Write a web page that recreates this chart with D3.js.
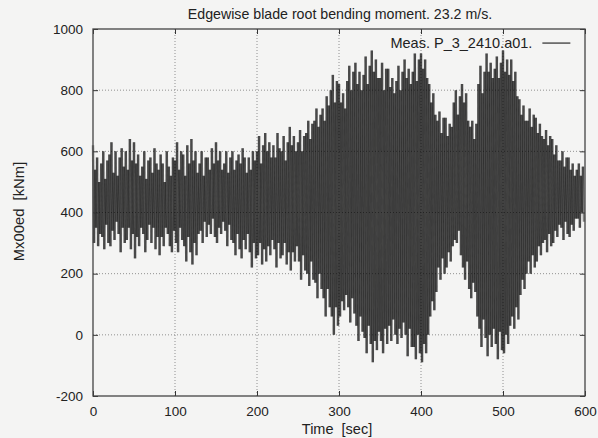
<!DOCTYPE html>
<html>
<head>
<meta charset="utf-8">
<script src="https://cdn.jsdelivr.net/npm/d3@7"></script>
<style>
  body { margin: 0; background: #f4f4f3; }
  svg { display: block; font-family: "Liberation Sans", Arial, sans-serif; }
  .pre { white-space: pre; }
</style>
</head>
<body>
<div id="chart"></div>
<script>
const title = "Edgewise blade root bending moment. 23.2 m/s.";
const seriesName = "Meas. P_3_2410.a01.";
const xTicks = [0, 100, 200, 300, 400, 500, 600];
const yTicks = [-200, 0, 200, 400, 600, 800, 1000];
const step = 2.5; // seconds between successive peaks

// local maxima, one every 2.5 s
const peaks = [
  620, 540, 580, 500,  560, 600, 510, 570,  590, 630, 530, 600,  520, 580, 610, 550,
  600, 540, 640, 570,  630, 560, 590, 520,  550, 600, 510, 570,  580, 530, 610, 560,
  540, 590, 560, 500,  600, 550, 520, 580,  570, 630, 540, 600,  590, 520, 620, 560,
  640, 570, 600, 530,  560, 600, 520, 580,  580, 540, 610, 560,  630, 570, 600, 540,
  560, 600, 530, 580,  600, 540, 570, 590,  560, 610, 580, 530,  580, 540, 600, 570,
  600, 650, 560, 620,  660, 600, 630, 580,  620, 580, 660, 610,  600, 650, 570, 630,
  680, 620, 650, 600,  630, 670, 600, 650,  660, 700, 640, 690,  700, 740, 680, 720,
  740, 700, 780, 750,  800, 850, 760, 830,  820, 760, 790, 740,  830, 880, 800, 860,
  890, 820, 860, 800,  850, 910, 820, 880,  930, 860, 900, 840,  840, 890, 800, 870,
  870, 810, 840, 790,  830, 880, 800, 860,  900, 840, 870, 820,  860, 920, 830, 900,
  920, 870, 900, 840,  820, 760, 790, 720,  700, 730, 660, 710,  710, 650, 690, 680,
  760, 800, 720, 780,  820, 760, 790, 700,  680, 700, 640, 690,  820, 880, 790, 860,
  920, 860, 890, 840,  870, 910, 840, 890,  930, 860, 900, 850,  900, 830, 860, 780,
  770, 720, 750, 700,  700, 740, 680, 720,  710, 660, 690, 650,  640, 670, 620, 650,
  640, 590, 620, 570,  570, 600, 550, 580,  580, 540, 560, 520,  540, 560, 520, 550
];

// local minima, each 1.25 s after the matching peak
const troughs = [
  300, 350, 290, 330,  320, 280, 360, 300,  290, 340, 310, 370,  330, 270, 350, 300,
  310, 350, 280, 330,  250, 320, 290, 350,  330, 270, 310, 360,  300, 350, 280, 320,
  260, 320, 290, 350,  330, 290, 270, 340,  300, 270, 350, 310,  290, 240, 320, 270,
  230, 300, 260, 330,  340, 300, 370, 320,  360, 330, 380, 320,  300, 350, 330, 370,
  340, 290, 360, 310,  300, 260, 330, 280,  250, 310, 280, 330,  270, 220, 300, 250,
  260, 300, 230, 280,  240, 290, 260, 310,  280, 220, 300, 250,  260, 300, 230, 270,
  210, 270, 240, 290,  240, 180, 260, 210,  200, 160, 240, 180,  170, 120, 200, 150,
  120, 60, 150, 90,    60, 0, 90, 30,      60, 110, 80, 130,    90, 40, 120, 70,
  30, -20, 60, 10,     -10, -60, 30, -30,  -90, -20, -50, 10,   -20, -60, 20, -30,
  30, -20, 50, 0,      -30, 20, -10, 40,   0, -70, 20, -40,     -40, -80, 0, -60,
  -90, -30, -60, 0,    60, 110, 80, 140,   220, 180, 250, 200,  220, 270, 240, 290,
  310, 300, 340, 260,  220, 180, 240, 150,  120, 170, 140, 60,   20, -40, 50, -10,
  -70, 0, -40, 20,     -30, -80, 10, -50,  -60, 0, -30, 30,     60, 20, 90, 50,
  130, 180, 150, 200,  240, 200, 260, 220,  240, 290, 260, 300,  310, 270, 330, 290,
  300, 340, 320, 360,  350, 310, 370, 330,  320, 360, 340, 380,  380, 350, 400, 370
];

const series = [];
peaks.forEach((p, i) => {
  series.push({ t: i * step, v: p });
  series.push({ t: i * step + step / 2, v: troughs[i] });
});

const W = 598, H = 438;
const margin = { top: 29, right: 13, bottom: 42, left: 93 };
const width = W - margin.left - margin.right;
const height = H - margin.top - margin.bottom;

const svg = d3.select("#chart").append("svg")
  .attr("width", W).attr("height", H);

const g = svg.append("g")
  .attr("transform", `translate(${margin.left},${margin.top})`);

const x = d3.scaleLinear().domain([0, 600]).range([0, width]);
const y = d3.scaleLinear().domain([-200, 1000]).range([height, 0]);

// grid
g.append("g").selectAll("line").data(xTicks.slice(1, -1)).enter().append("line")
  .attr("x1", d => x(d)).attr("x2", d => x(d))
  .attr("y1", 0).attr("y2", height)
  .attr("stroke", "#777").attr("stroke-width", 0.8).attr("stroke-dasharray", "1,2");
g.append("g").selectAll("line").data(yTicks.slice(1, -1)).enter().append("line")
  .attr("x1", 0).attr("x2", width)
  .attr("y1", d => y(d)).attr("y2", d => y(d))
  .attr("stroke", "#777").attr("stroke-width", 0.8).attr("stroke-dasharray", "1,2");

// data: one segment per line so that overlapping strokes build up a dark core
g.append("g").selectAll("line")
  .data(d3.pairs(series))
  .enter().append("line")
  .attr("x1", d => x(d[0].t)).attr("y1", d => y(d[0].v))
  .attr("x2", d => x(d[1].t)).attr("y2", d => y(d[1].v))
  .attr("stroke", "#000")
  .attr("stroke-opacity", 0.45)
  .attr("stroke-width", 2.4);

// axes (ticks inside, mirrored like gnuplot)
const fmt = d => String(d);
const axisStyle = sel => {
  sel.select(".domain").remove();
  sel.selectAll("line").attr("stroke", "#333");
  sel.selectAll("text").attr("font-size", 13.5).attr("fill", "#222")
    .attr("font-family", "'Liberation Sans', Arial, sans-serif");
};
g.append("g").attr("transform", `translate(0,${height})`)
  .call(d3.axisBottom(x).tickValues(xTicks).tickSize(-5).tickPadding(10).tickFormat(fmt))
  .call(axisStyle);
g.append("g")
  .call(d3.axisTop(x).tickValues(xTicks).tickSize(-5).tickFormat(""))
  .call(axisStyle);
g.append("g")
  .call(d3.axisLeft(y).tickValues(yTicks).tickSize(-5).tickPadding(10).tickFormat(fmt))
  .call(axisStyle);
g.append("g").attr("transform", `translate(${width},0)`)
  .call(d3.axisRight(y).tickValues(yTicks).tickSize(-5).tickFormat(""))
  .call(axisStyle);

g.append("rect")
  .attr("width", width).attr("height", height)
  .attr("fill", "none").attr("stroke", "#444").attr("stroke-width", 1.3);

// legend
const legend = g.append("g").attr("transform", `translate(${x(548)},${y(954)})`);
legend.append("text")
  .attr("x", -10).attr("y", 5)
  .attr("text-anchor", "end")
  .attr("font-size", 14.5).attr("fill", "#222")
  .text(seriesName);
legend.append("line")
  .attr("x1", 0).attr("x2", 28).attr("y1", 0).attr("y2", 0)
  .attr("stroke", "#2b2b2b").attr("stroke-width", 1.2);

// title and labels
svg.append("text")
  .attr("x", 340).attr("y", 19)
  .attr("text-anchor", "middle").attr("font-size", 14.2).attr("fill", "#222")
  .text(title);
svg.append("text")
  .attr("class", "pre")
  .attr("x", 337).attr("y", 434)
  .attr("text-anchor", "middle").attr("font-size", 14.5).attr("fill", "#222")
  .text("Time  [sec]");
svg.append("text")
  .attr("class", "pre")
  .attr("transform", `translate(24,${margin.top + y(400) - 1}) rotate(-90)`)
  .attr("text-anchor", "middle").attr("font-size", 14.8).attr("fill", "#222")
  .text("Mx00ed  [kNm]");
</script>
</body>
</html>
